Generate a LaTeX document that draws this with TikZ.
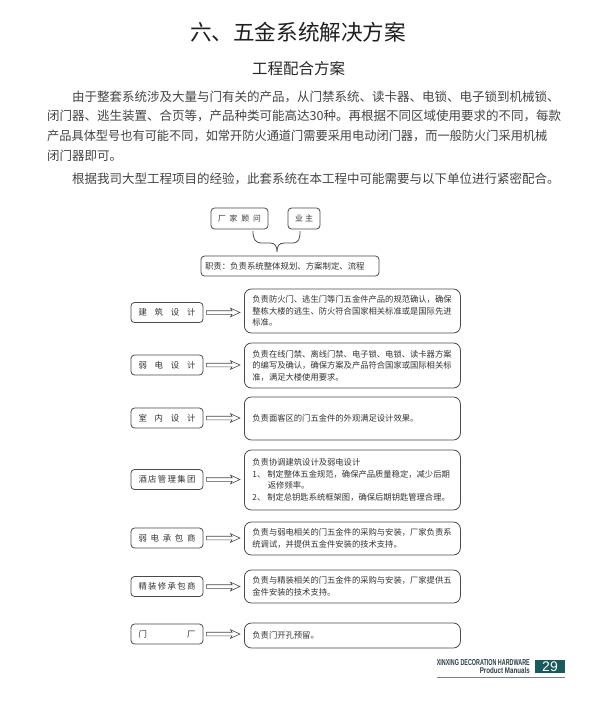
\documentclass[tikz,border=0pt]{standalone}
\usepackage{fontspec}
\setmainfont{Noto Sans CJK SC}
\newfontfamily\latinsans{Liberation Sans}
\usetikzlibrary{arrows.meta,calc}
\definecolor{boxline}{HTML}{4A4A4A}
\definecolor{boxtext}{HTML}{333333}
\definecolor{bodytext}{HTML}{444444}
\definecolor{teal}{HTML}{1B5A5C}
\definecolor{footertext}{HTML}{2B3F48}
\begin{document}
\begin{tikzpicture}[x=1pt,y=-1pt,
  bodyline/.style={anchor=base west,inner sep=0pt,text=bodytext,font=\fontsize{12.5}{14}\selectfont},
  smallbox/.style={draw=boxline,line width=0.8pt,rounded corners=3.5pt,inner sep=0pt,text=boxtext,font=\fontsize{8.4}{10}\selectfont},
  lbox/.style={smallbox,minimum width=72pt,minimum height=20pt},
  rbox/.style={draw=boxline,line width=0.8pt,rounded corners=7pt,anchor=west,minimum width=216pt,
    text width=200pt,inner xsep=8pt,inner ysep=0pt,align=left,text=boxtext,font=\fontsize{8.3}{11.5}\selectfont},
  hollowarrow/.style={draw=boxline,line width=0.6pt,line join=miter}
]
\useasboundingbox (0,0) rectangle (600,713);
\fill[white] (0,0) rectangle (600,713);

% headings
\node[anchor=base,inner sep=0pt,text=black!88,font=\fontsize{21.6}{24}\selectfont] (title) at (298,40) {六、五金系统解决方案};
\node[anchor=base,inner sep=0pt,text=black!85,font=\fontsize{15.5}{18}\selectfont] (subtitle) at (298.5,74) {工程配合方案};

% paragraph
\node[bodyline] (p1) at (72,101.75) {由于整套系统涉及大量与门有关的产品，从门禁系统、读卡器、电锁、电子锁到机械锁、};
\node[bodyline] (p2) at (47,120.75) {闭门器、逃生装置、合页等，产品种类可能高达30种。再根据不同区域使用要求的不同，每款};
\node[bodyline] (p3) at (47,140.75) {\scalebox{0.976}[1]{产品具体型号也有可能不同，如常开防火通道门需要采用电动闭门器，而一般防火门采用机械}};
\node[bodyline] (p4) at (47,160.75) {闭门器即可。};
\node[bodyline] (p5) at (72,183.75) {根据我司大型工程项目的经验，此套系统在本工程中可能需要与以下单位进行紧密配合。};

% top group
\node[smallbox,minimum width=57pt,minimum height=21pt,font=\fontsize{7.8}{9}\selectfont] (gw) at (239.5,218.5) {\makebox[43pt]{厂\hfill 家\hfill 顾\hfill 问}};
\node[smallbox,minimum width=32pt,minimum height=21pt,font=\fontsize{8}{9}\selectfont] (yz) at (304,218.5) {\makebox[18pt]{业\hfill 主}};
\node[smallbox,minimum width=178pt,minimum height=20pt,text width=170pt,inner xsep=4pt,align=left] (zz) at (290,266) {职责：负责系统整体规划、方案制定、流程};

\coordinate (bl) at (253,231);
\coordinate (br) at (300,231);
\coordinate (bt) at (277,252);
\draw[boxline,line width=0.8pt]
  (bl) .. controls (253,239) and (255,243) .. (262,243) -- (270,243)
  .. controls (275,243) and (bt |- 0,246) .. (bt)
  .. controls (bt |- 0,246) and (279,243) .. (284,243) -- (292,243)
  .. controls (299,243) and (br |- 0,239) .. (br);

% left boxes
\node[lbox] (l1) at (167,312.5) {\makebox[57pt]{建\hfill 筑\hfill 设\hfill 计}};
\node[lbox] (l2) at (167,365) {\makebox[57pt]{弱\hfill 电\hfill 设\hfill 计}};
\node[lbox] (l3) at (167,418) {\makebox[57pt]{室\hfill 内\hfill 设\hfill 计}};
\node[lbox] (l4) at (167,479.5) {\makebox[57pt]{酒\hfill 店\hfill 管\hfill 理\hfill 集\hfill 团}};
\node[lbox] (l5) at (167,538) {\makebox[57pt]{弱\hfill 电\hfill 承\hfill 包\hfill 商}};
\node[lbox] (l6) at (167,586.5) {\makebox[57pt]{精\hfill 装\hfill 修\hfill 承\hfill 包\hfill 商}};
\node[lbox] (l7) at (167,634) {\makebox[57pt]{门\hfill 厂}};

% right boxes
\node[rbox,minimum height=44pt] (r1) at (244,311) {负责防火门、逃生门等门五金件产品的规范确认，确保\\整栋大楼的逃生、防火符合国家相关标准或是国际先进\\标准。};
\node[rbox,minimum height=45pt] (r2) at (244,365.5) {负责在线门禁、离线门禁、电子锁、电锁、读卡器方案\\的编写及确认，确保方案及产品符合国家或国际相关标\\准，满足大楼使用要求。};
\node[rbox,minimum height=43pt] (r3) at (244,418.5) {负责面客区的门五金件的外观满足设计效果。};
\node[rbox,minimum height=60pt] (r4) at (244,480) {负责协调建筑设计及弱电设计\\1、\hspace{2pt}制定整体五金规范，确保产品质量稳定，减少后期\\\hspace*{15.5pt}返修频率。\\2、\hspace{2pt}制定总钥匙系统框架图，确保后期钥匙管理合理。};
\node[rbox,minimum height=33pt] (r5) at (244,538.5) {负责与弱电相关的门五金件的采购与安装，厂家负责系\\统调试，并提供五金件安装的技术支持。};
\node[rbox,minimum height=33pt] (r6) at (244,586.5) {负责与精装相关的门五金件的采购与安装，厂家提供五\\金件安装的技术支持。};
\node[rbox,minimum height=25pt] (r7) at (244,635.5) {负责门开孔预留。};

% hollow arrows from each left box to its right box
\foreach \i in {1,...,7}{
  \coordinate (s\i) at ($(l\i.east)+(3,0)$);
  \coordinate (e\i) at ($(l\i.east -| r\i.west)+(-4,0)$);
  \draw[hollowarrow] ($(s\i)+(0,-1.8)$) -- ($(e\i)+(-8,-1.8)$) -- ($(e\i)+(-9.5,-4.3)$) -- (e\i)
    -- ($(e\i)+(-9.5,4.3)$) -- ($(e\i)+(-8,1.8)$) -- ($(s\i)+(0,1.8)$) -- cycle;
}

% footer
\node[anchor=base east,inner sep=0pt,text=footertext] (brand) at (530,665.5) {\resizebox{93pt}{6pt}{\latinsans\bfseries XINXING DECORATION HARDWARE}};
\node[anchor=base east,inner sep=0pt,text=footertext] (manual) at (530,673) {\resizebox{50pt}{6pt}{\latinsans\bfseries Product Manuals}};
\node[fill=teal,minimum width=30pt,minimum height=13.5pt,inner sep=0pt,text=white,font=\latinsans\fontsize{14}{14}\selectfont] (page) at (550,666.5) {29};
\draw[gray,line width=0.6pt] (brand.west |- 0,677.5) -- (page.east |- 0,677.5);
\end{tikzpicture}
\end{document}
